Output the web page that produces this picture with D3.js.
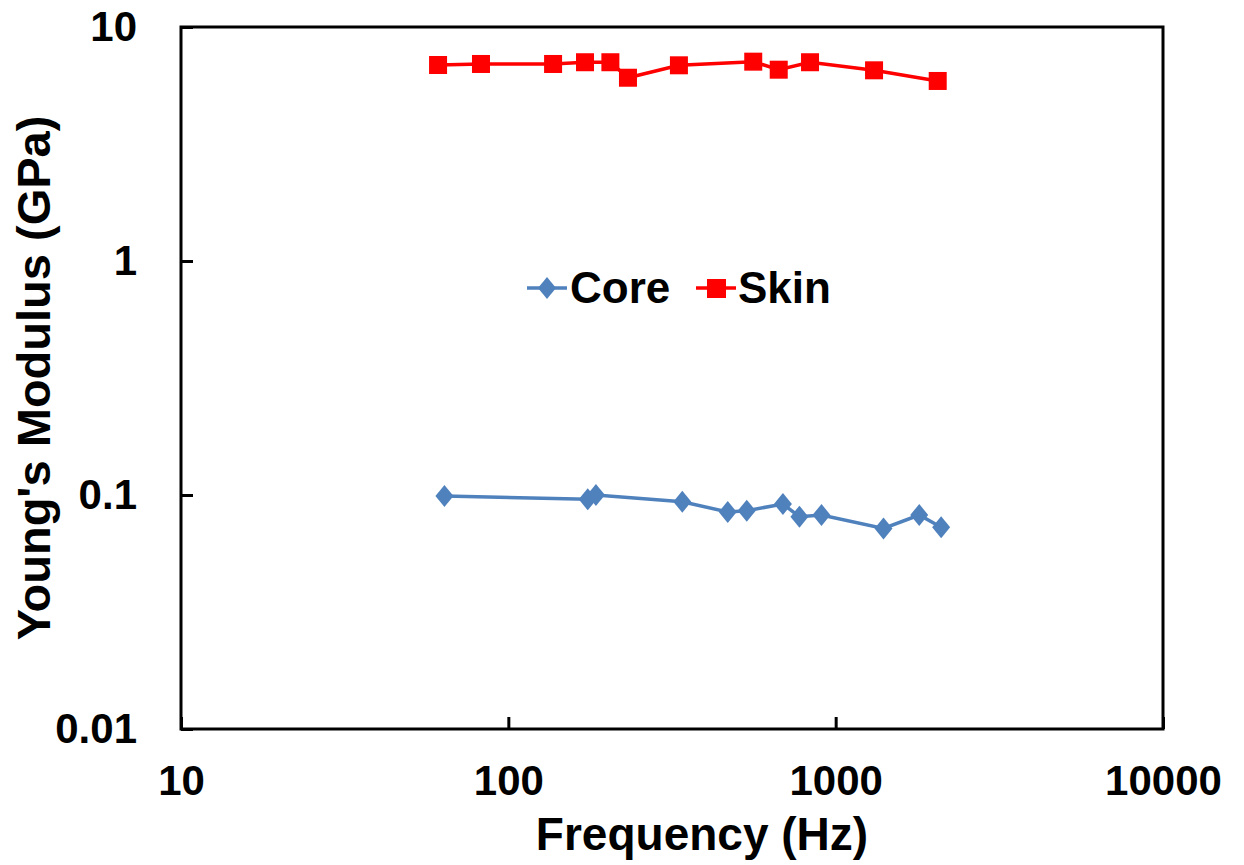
<!DOCTYPE html>
<html><head><meta charset="utf-8">
<script src="https://cdn.jsdelivr.net/npm/d3@7"></script>
<style>body{margin:0;background:#fff;} text{font-family:"Liberation Sans",Arial,sans-serif;font-weight:bold;fill:#000;}</style>
</head><body>
<svg id="c" width="1244" height="865"></svg>
<script>
const coreFreq = [63.8, 174.8, 185.2, 340, 468, 535, 690, 775, 905, 1400, 1800, 2100];
const coreModulus = [0.099, 0.0958, 0.100, 0.0936, 0.0846, 0.0857, 0.0915, 0.0808, 0.0821, 0.0720, 0.0821, 0.0728];
const skinFreq = [61, 82.5, 137, 171.5, 205, 232, 332, 560, 670, 835, 1310, 2050];
const skinModulus = [6.88, 6.95, 6.95, 7.07, 7.07, 6.07, 6.86, 7.11, 6.57, 7.07, 6.53, 5.88];
const xTicks = [10, 100, 1000, 10000];
const yTicks = [0.01, 0.1, 1, 10];
const xTickLabels = ["10", "100", "1000", "10000"];
const yTickLabels = ["0.01", "0.1", "1", "10"];
const seriesNames = ["Core", "Skin"];

const svg = d3.select("#c");
const L = 181, R = 1163, T = 27, B = 729;
const x = d3.scaleLog().domain([10, 10000]).range([L, R]);
const y = d3.scaleLog().domain([0.01, 10]).range([B, T]);

// ticks
const xAxis = d3.axisBottom(x).tickValues(xTicks).tickSize(-12).tickFormat((d,i)=>xTickLabels[i]).tickPadding(36);
const gx = svg.append("g").attr("transform", `translate(0,${B})`).call(xAxis);
gx.select(".domain").remove();
gx.selectAll("line").attr("stroke", "#000").attr("stroke-width", 3);
gx.selectAll("text").attr("font-size", 42).attr("font-family", "Liberation Sans").attr("font-weight", "bold").attr("fill", "#000");

const yAxis = d3.axisLeft(y).tickValues(yTicks).tickSize(-12).tickFormat((d,i)=>yTickLabels[i]).tickPadding(44);
const gy = svg.append("g").attr("transform", `translate(${L},0)`).call(yAxis);
gy.select(".domain").remove();
gy.selectAll("line").attr("stroke", "#000").attr("stroke-width", 3);
gy.selectAll("text").attr("font-size", 42).attr("font-family", "Liberation Sans").attr("font-weight", "bold").attr("fill", "#000");

// frame
svg.append("rect").attr("x", L).attr("y", T).attr("width", R - L).attr("height", B - T)
  .attr("fill", "none").attr("stroke", "#000").attr("stroke-width", 3);

const blue = "#4f81bd", red = "#ff0000";
const line = d3.line().x(d => x(d[0])).y(d => y(d[1]));
const core = coreFreq.map((f, i) => [f, coreModulus[i]]);
const skin = skinFreq.map((f, i) => [f, skinModulus[i]]);

svg.append("path").attr("d", line(core)).attr("fill", "none").attr("stroke", blue).attr("stroke-width", 3.5);
svg.append("path").attr("d", line(skin)).attr("fill", "none").attr("stroke", red).attr("stroke-width", 3.5);

const diamond = "M0,-11L9,0L0,11L-9,0Z";
svg.selectAll(".cm").data(core).enter().append("path")
  .attr("d", diamond).attr("transform", d => `translate(${x(d[0])},${y(d[1])})`).attr("fill", blue);
svg.selectAll(".sm").data(skin).enter().append("rect")
  .attr("x", d => x(d[0]) - 9).attr("y", d => y(d[1]) - 9).attr("width", 18).attr("height", 18).attr("fill", red);

// legend
const lg = svg.append("g");
lg.append("line").attr("x1", 527).attr("x2", 567).attr("y1", 288).attr("y2", 288).attr("stroke", blue).attr("stroke-width", 3.5);
lg.append("path").attr("d", diamond).attr("transform", "translate(547,288)").attr("fill", blue);
lg.append("text").attr("x", 570).attr("y", 303).attr("font-size", 44).text(seriesNames[0]);
lg.append("line").attr("x1", 696).attr("x2", 736).attr("y1", 288).attr("y2", 288).attr("stroke", red).attr("stroke-width", 3.5);
lg.append("rect").attr("x", 707).attr("y", 279).attr("width", 19).attr("height", 19).attr("fill", red);
lg.append("text").attr("x", 738).attr("y", 303).attr("font-size", 44).text(seriesNames[1]);

// titles
svg.append("text").attr("x", 702).attr("y", 850).attr("text-anchor", "middle").attr("font-size", 46).text("Frequency (Hz)");
svg.append("text").attr("transform", "translate(50,378) rotate(-90)").attr("text-anchor", "middle").attr("font-size", 47).text("Young's Modulus (GPa)");
</script>
</body></html>
